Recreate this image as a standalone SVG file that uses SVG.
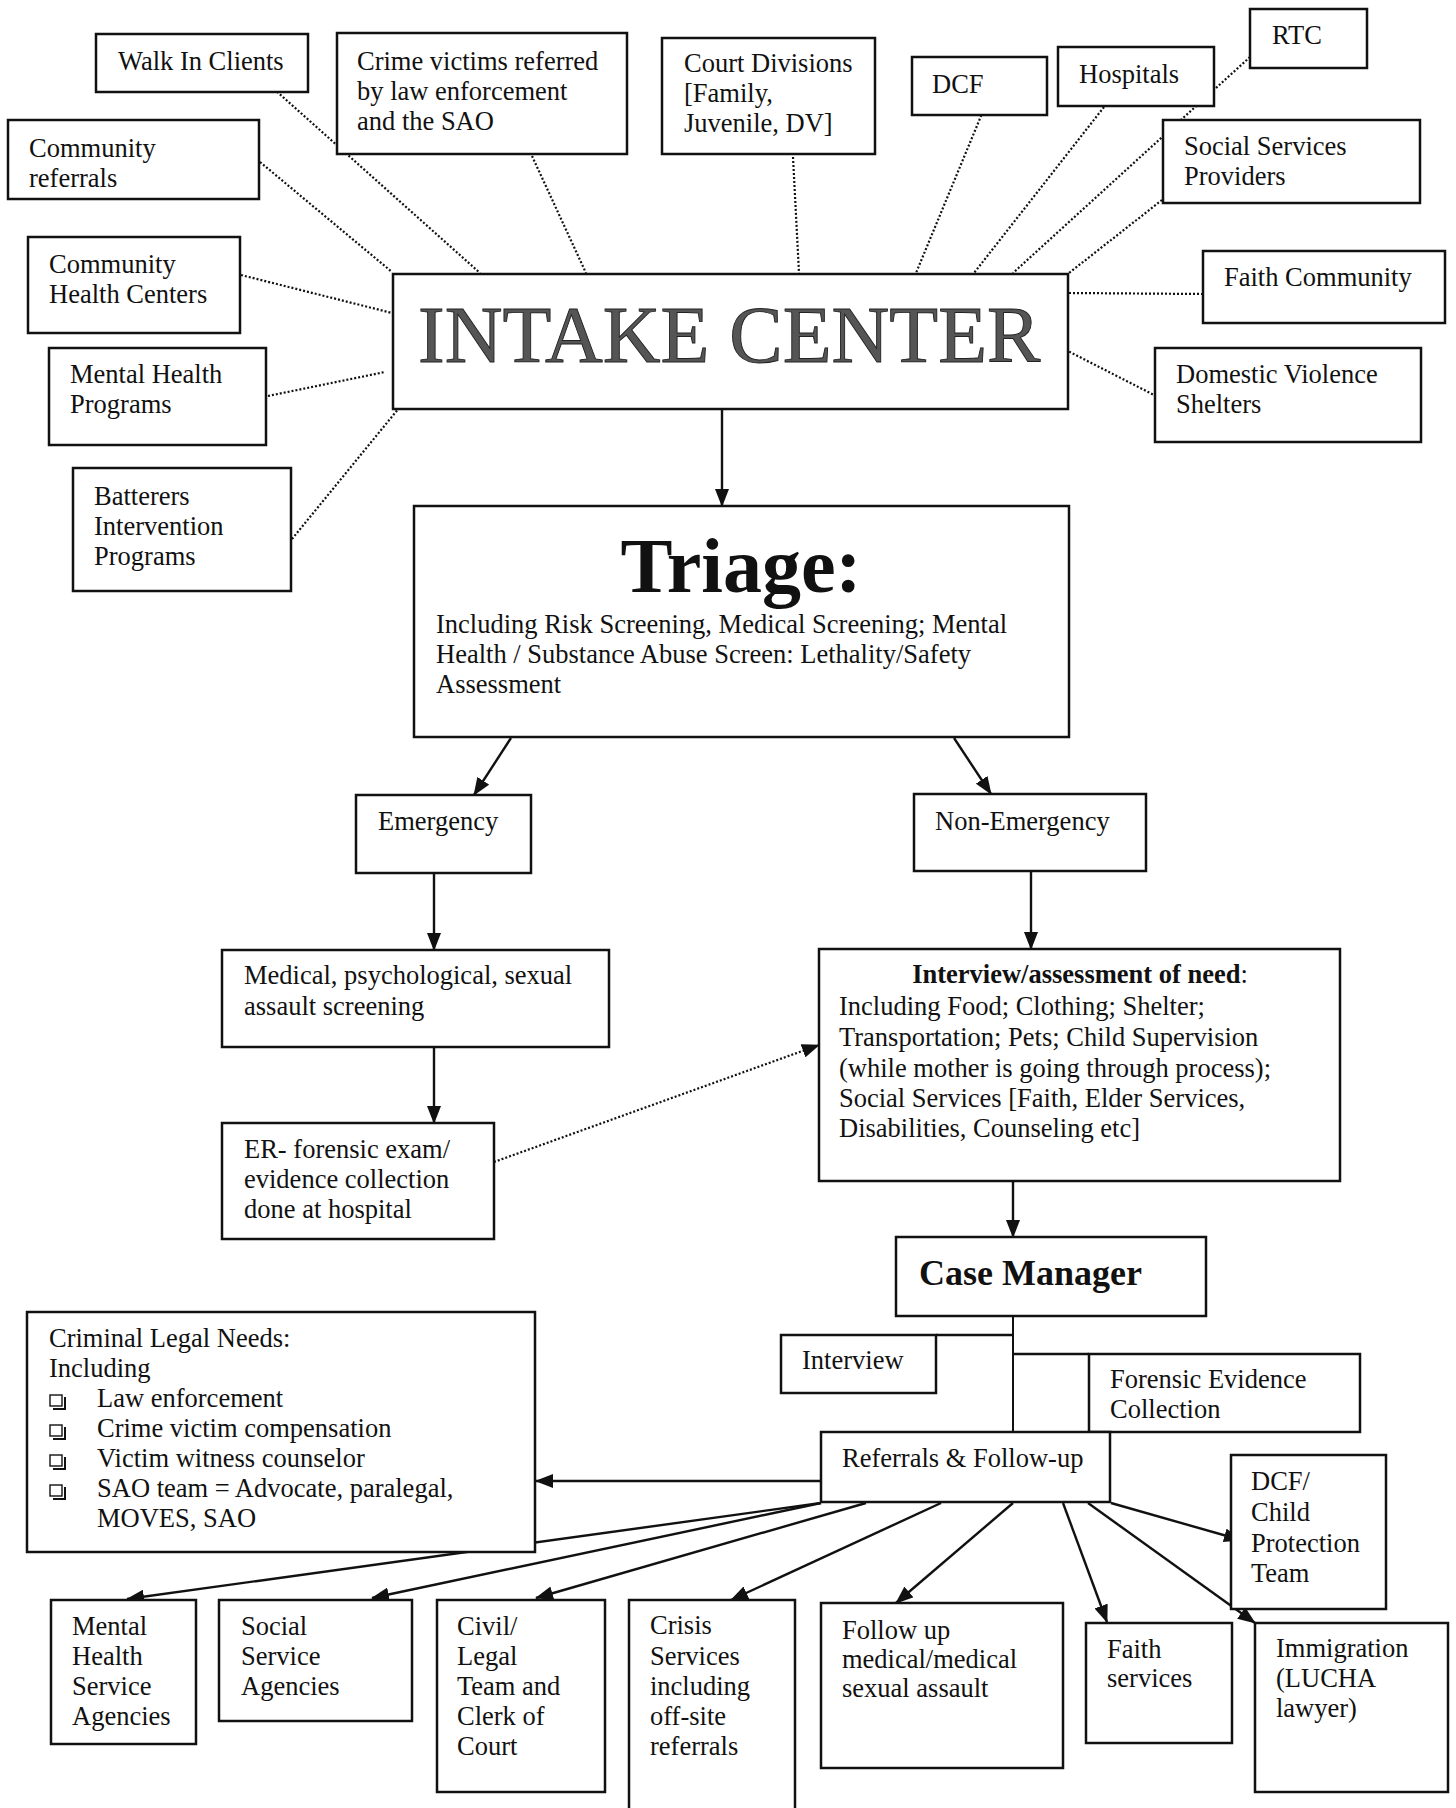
<svg xmlns="http://www.w3.org/2000/svg" width="1456" height="1808" viewBox="0 0 1456 1808">
<style>
.b{fill:#fff;stroke:#111;stroke-width:2.5}
.t{font-family:"Liberation Serif","Times New Roman",serif;font-size:26.5px;fill:#111}
.bd{font-weight:bold}
.dot{fill:none;stroke:#111;stroke-width:2.2;stroke-dasharray:2 2}
.ar{fill:none;stroke:#111;stroke-width:2.4}
.bul{fill:#fff;stroke:#111;stroke-width:1.4}
</style>
<defs>
<marker id="ah" viewBox="0 0 18 14" refX="17" refY="7" markerWidth="18" markerHeight="14" markerUnits="userSpaceOnUse" orient="auto">
<path d="M0,0 L18,7 L0,14 z" fill="#111"/>
</marker>
</defs>
<rect width="1456" height="1808" fill="#fff"/>

<g id="connectors">
<line class="dot" x1="265" y1="81" x2="480" y2="273"/>
<line class="dot" x1="532" y1="156" x2="586" y2="273"/>
<line class="dot" x1="260" y1="162" x2="392" y2="272"/>
<line class="dot" x1="241" y1="275" x2="392" y2="313"/>
<line class="dot" x1="268" y1="396" x2="385" y2="372"/>
<line class="dot" x1="292" y1="539" x2="408" y2="397"/>
<line class="dot" x1="793" y1="157" x2="799" y2="273"/>
<line class="dot" x1="986" y1="104" x2="916" y2="273"/>
<line class="dot" x1="1104" y1="107" x2="974" y2="273"/>
<line class="dot" x1="1250" y1="57" x2="1013" y2="273"/>
<line class="dot" x1="1162" y1="200" x2="1069" y2="273"/>
<line class="dot" x1="1069" y1="293" x2="1203" y2="294"/>
<line class="dot" x1="1062" y1="348" x2="1154" y2="395"/>
<line class="ar" x1="722" y1="409" x2="722" y2="506" marker-end="url(#ah)"/>
<line class="ar" x1="511" y1="738" x2="474" y2="795" marker-end="url(#ah)"/>
<line class="ar" x1="954" y1="738" x2="991" y2="794" marker-end="url(#ah)"/>
<line class="ar" x1="434" y1="873" x2="434" y2="950" marker-end="url(#ah)"/>
<line class="ar" x1="434" y1="1047" x2="434" y2="1123" marker-end="url(#ah)"/>
<line class="dot" x1="494" y1="1162" x2="819" y2="1045" marker-end="url(#ah)"/>
<line class="ar" x1="1031" y1="871" x2="1031" y2="949" marker-end="url(#ah)"/>
<line class="ar" x1="1013" y1="1181" x2="1013" y2="1237" marker-end="url(#ah)"/>
<polyline fill="none" stroke="#111" stroke-width="2" points="1013,1316 1013,1432"/>
<line stroke="#111" stroke-width="2.5" x1="936" y1="1335" x2="1013" y2="1335"/>
<line stroke="#111" stroke-width="2.5" x1="1013" y1="1354" x2="1089" y2="1354"/>
<line class="ar" x1="821" y1="1481" x2="536" y2="1481" marker-end="url(#ah)"/>
<line class="ar" x1="821" y1="1503" x2="127" y2="1599" marker-end="url(#ah)"/>
<line class="ar" x1="821" y1="1503" x2="372" y2="1598" marker-end="url(#ah)"/>
<line class="ar" x1="866" y1="1503" x2="536" y2="1598" marker-end="url(#ah)"/>
<line class="ar" x1="941" y1="1503" x2="731" y2="1600" marker-end="url(#ah)"/>
<line class="ar" x1="1013" y1="1503" x2="896" y2="1603" marker-end="url(#ah)"/>
<line class="ar" x1="1063" y1="1503" x2="1107" y2="1622" marker-end="url(#ah)"/>
<line class="ar" x1="1088" y1="1503" x2="1255" y2="1623" marker-end="url(#ah)"/>
<line class="ar" x1="1111" y1="1503" x2="1241" y2="1540" marker-end="url(#ah)"/>
</g>

<g id="walk-in"><rect class="b" x="96" y="34" width="212" height="58"/><text class="t" x="118" y="70">Walk In Clients</text></g>
<g id="crime-victims"><rect class="b" x="337" y="33" width="290" height="121"/><text class="t" x="357" y="70">Crime victims referred</text><text class="t" x="357" y="100">by law enforcement</text><text class="t" x="357" y="130">and the SAO</text></g>
<g id="community-referrals"><rect class="b" x="8" y="120" width="251" height="79"/><text class="t" x="29" y="157">Community</text><text class="t" x="29" y="187">referrals</text></g>
<g id="community-health"><rect class="b" x="28" y="237" width="212" height="96"/><text class="t" x="49" y="273">Community</text><text class="t" x="49" y="303">Health Centers</text></g>
<g id="mental-health-programs"><rect class="b" x="49" y="348" width="217" height="97"/><text class="t" x="70" y="383">Mental Health</text><text class="t" x="70" y="413">Programs</text></g>
<g id="batterers"><rect class="b" x="73" y="468" width="218" height="123"/><text class="t" x="94" y="505">Batterers</text><text class="t" x="94" y="535">Intervention</text><text class="t" x="94" y="565">Programs</text></g>
<g id="court-divisions"><rect class="b" x="662" y="38" width="213" height="116"/><text class="t" x="684" y="72">Court Divisions</text><text class="t" x="684" y="102">[Family,</text><text class="t" x="684" y="132">Juvenile, DV]</text></g>
<g id="dcf"><rect class="b" x="912" y="57" width="135" height="58"/><text class="t" x="932" y="93">DCF</text></g>
<g id="hospitals"><rect class="b" x="1058" y="47" width="156" height="59"/><text class="t" x="1079" y="83">Hospitals</text></g>
<g id="rtc"><rect class="b" x="1250" y="9" width="117" height="59"/><text class="t" x="1272" y="44">RTC</text></g>
<g id="social-services-providers"><rect class="b" x="1163" y="120" width="257" height="83"/><text class="t" x="1184" y="155">Social Services</text><text class="t" x="1184" y="185">Providers</text></g>
<g id="faith-community"><rect class="b" x="1203" y="251" width="242" height="72"/><text class="t" x="1224" y="286">Faith Community</text></g>
<g id="dv-shelters"><rect class="b" x="1155" y="348" width="266" height="94"/><text class="t" x="1176" y="383">Domestic Violence</text><text class="t" x="1176" y="413">Shelters</text></g>

<g id="intake-center"><rect class="b" x="393" y="274" width="675" height="135"/><text x="418" y="362" font-family="Liberation Serif, serif" font-size="80" fill="#555" stroke="#222" stroke-width="0.9">INTAKE CENTER</text></g>

<g id="triage"><rect class="b" x="414" y="506" width="655" height="231"/><text class="t bd" x="741" y="592" font-size="78" text-anchor="middle" style="font-size:78px">Triage:</text><text class="t" x="436" y="633">Including Risk Screening, Medical Screening; Mental</text><text class="t" x="436" y="663">Health / Substance Abuse Screen: Lethality/Safety</text><text class="t" x="436" y="693">Assessment</text></g>

<g id="emergency"><rect class="b" x="356" y="795" width="175" height="78"/><text class="t" x="378" y="830">Emergency</text></g>
<g id="non-emergency"><rect class="b" x="914" y="794" width="232" height="77"/><text class="t" x="935" y="830">Non-Emergency</text></g>
<g id="medical-screening"><rect class="b" x="222" y="950" width="387" height="97"/><text class="t" x="244" y="984">Medical, psychological, sexual</text><text class="t" x="244" y="1015">assault screening</text></g>
<g id="er-forensic"><rect class="b" x="222" y="1123" width="272" height="116"/><text class="t" x="244" y="1158">ER- forensic exam/</text><text class="t" x="244" y="1188">evidence collection</text><text class="t" x="244" y="1218">done at hospital</text></g>

<g id="interview-assessment"><rect class="b" x="819" y="949" width="521" height="232"/><text class="t" x="1080" y="983" text-anchor="middle"><tspan class="bd" font-weight="bold">Interview/assessment of need</tspan>:</text><text class="t" x="839" y="1015">Including Food; Clothing; Shelter;</text><text class="t" x="839" y="1046">Transportation; Pets; Child Supervision</text><text class="t" x="839" y="1077">(while mother is going through process);</text><text class="t" x="839" y="1107">Social Services [Faith, Elder Services,</text><text class="t" x="839" y="1137">Disabilities, Counseling etc]</text></g>

<g id="case-manager"><rect class="b" x="896" y="1237" width="310" height="79"/><text class="t bd" x="919" y="1285" style="font-size:36px">Case Manager</text></g>
<g id="interview"><rect class="b" x="781" y="1335" width="155" height="58"/><text class="t" x="802" y="1369">Interview</text></g>
<g id="forensic-evidence"><rect class="b" x="1089" y="1354" width="271" height="78"/><text class="t" x="1110" y="1388">Forensic Evidence</text><text class="t" x="1110" y="1418">Collection</text></g>
<g id="referrals"><rect class="b" x="821" y="1432" width="289" height="70"/><text class="t" x="842" y="1467">Referrals &amp; Follow-up</text></g>

<g id="criminal-legal"><rect class="b" x="27" y="1312" width="508" height="240"/>
<text class="t" x="49" y="1347">Criminal Legal Needs:</text><text class="t" x="49" y="1377">Including</text>
<path d="M53,1409 h12 v-12" fill="none" stroke="#111" stroke-width="2"/><rect class="bul" x="50" y="1395" width="12" height="11"/><text class="t" x="97" y="1407">Law enforcement</text>
<path d="M53,1439 h12 v-12" fill="none" stroke="#111" stroke-width="2"/><rect class="bul" x="50" y="1425" width="12" height="11"/><text class="t" x="97" y="1437">Crime victim compensation</text>
<path d="M53,1469 h12 v-12" fill="none" stroke="#111" stroke-width="2"/><rect class="bul" x="50" y="1455" width="12" height="11"/><text class="t" x="97" y="1467">Victim witness counselor</text>
<path d="M53,1499 h12 v-12" fill="none" stroke="#111" stroke-width="2"/><rect class="bul" x="50" y="1485" width="12" height="11"/><text class="t" x="97" y="1497">SAO team = Advocate, paralegal,</text>
<text class="t" x="97" y="1527">MOVES, SAO</text></g>

<g id="dcf-child-protection"><rect class="b" x="1231" y="1455" width="155" height="154"/><text class="t" x="1251" y="1490">DCF/</text><text class="t" x="1251" y="1521">Child</text><text class="t" x="1251" y="1552">Protection</text><text class="t" x="1251" y="1582">Team</text></g>
<g id="mental-health-agencies"><rect class="b" x="51" y="1600" width="145" height="144"/><text class="t" x="72" y="1635">Mental</text><text class="t" x="72" y="1665">Health</text><text class="t" x="72" y="1695">Service</text><text class="t" x="72" y="1725">Agencies</text></g>
<g id="social-service-agencies"><rect class="b" x="219" y="1600" width="193" height="121"/><text class="t" x="241" y="1635">Social</text><text class="t" x="241" y="1665">Service</text><text class="t" x="241" y="1695">Agencies</text></g>
<g id="civil-legal"><rect class="b" x="437" y="1600" width="168" height="192"/><text class="t" x="457" y="1635">Civil/</text><text class="t" x="457" y="1665">Legal</text><text class="t" x="457" y="1695">Team and</text><text class="t" x="457" y="1725">Clerk of</text><text class="t" x="457" y="1755">Court</text></g>
<g id="crisis-services"><rect class="b" x="629" y="1600" width="166" height="230"/><text class="t" x="650" y="1634">Crisis</text><text class="t" x="650" y="1665">Services</text><text class="t" x="650" y="1695">including</text><text class="t" x="650" y="1725">off-site</text><text class="t" x="650" y="1755">referrals</text></g>
<g id="follow-up-medical"><rect class="b" x="821" y="1603" width="242" height="165"/><text class="t" x="842" y="1639">Follow up</text><text class="t" x="842" y="1668">medical/medical</text><text class="t" x="842" y="1697">sexual assault</text></g>
<g id="faith-services"><rect class="b" x="1086" y="1623" width="146" height="120"/><text class="t" x="1107" y="1658">Faith</text><text class="t" x="1107" y="1687">services</text></g>
<g id="immigration"><rect class="b" x="1255" y="1623" width="193" height="169"/><text class="t" x="1276" y="1657">Immigration</text><text class="t" x="1276" y="1687">(LUCHA</text><text class="t" x="1276" y="1717">lawyer)</text></g>
</svg>
